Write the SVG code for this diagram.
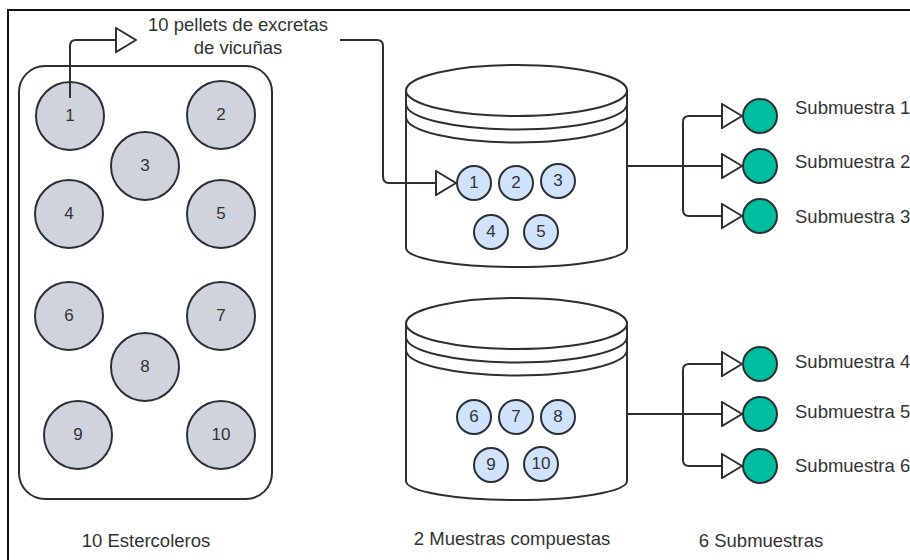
<svg xmlns="http://www.w3.org/2000/svg" width="910" height="560" viewBox="0 0 910 560">
<style>
.ln{fill:none;stroke:#2b2f36;stroke-width:2;stroke-linejoin:round}
.pel{fill:#cfd4dc;stroke:#2b2f36;stroke-width:2}
.sm{fill:#cfe3fc;stroke:#2b2f36;stroke-width:2}
.gr{fill:#00bfa0;stroke:#2b2f36;stroke-width:2}
.cyl{fill:#fff;stroke:#2b2f36;stroke-width:2}
text{font-family:"Liberation Sans",Arial,sans-serif;font-size:18.5px;fill:#333}
.c{text-anchor:middle}
.n{text-anchor:middle;dominant-baseline:central;font-size:17px}
</style>
<defs>
<marker id="tri" viewBox="0 0 22 26" refX="21" refY="13" markerWidth="22" markerHeight="26" markerUnits="userSpaceOnUse" orient="auto">
<path d="M1,1 L21,13 L1,25 Z" fill="#fff" stroke="#2b2f36" stroke-width="2" stroke-linejoin="miter"/>
</marker>
</defs>
<rect width="910" height="560" fill="#fff"/>
<path d="M8,560 V10 H910" fill="none" stroke="#111" stroke-width="2"/>

<g id="estercoleros">
<rect x="19" y="66" width="253" height="433" rx="26" class="cyl"/>
<g id="p1"><circle cx="70" cy="116" r="34" class="pel"/><text x="70" y="115" class="n">1</text></g>
<g id="p2"><circle cx="221" cy="115" r="34" class="pel"/><text x="221" y="114" class="n">2</text></g>
<g id="p3"><circle cx="145" cy="166" r="34" class="pel"/><text x="145" y="165" class="n">3</text></g>
<g id="p4"><circle cx="69" cy="214" r="34" class="pel"/><text x="69" y="213" class="n">4</text></g>
<g id="p5"><circle cx="221" cy="214" r="34" class="pel"/><text x="221" y="213" class="n">5</text></g>
<g id="p6"><circle cx="69" cy="316" r="34" class="pel"/><text x="69" y="315" class="n">6</text></g>
<g id="p7"><circle cx="221" cy="316" r="34" class="pel"/><text x="221" y="315" class="n">7</text></g>
<g id="p8"><circle cx="145" cy="367" r="34" class="pel"/><text x="145" y="366" class="n">8</text></g>
<g id="p9"><circle cx="78" cy="435" r="34" class="pel"/><text x="78" y="434" class="n">9</text></g>
<g id="p10"><circle cx="221" cy="435" r="34" class="pel"/><text x="221" y="434" class="n">10</text></g>
</g>

<g id="label-pellets">
<text x="238" y="31" class="c">10 pellets de excretas</text>
<text x="238" y="54" class="c">de vicuñas</text>
</g>

<g id="muestra1">
<path d="M406,90 V248 A110.5,19 0 0 0 627,248 V90" class="cyl"/>
<ellipse cx="516.5" cy="90.5" rx="110.5" ry="25.5" class="cyl"/>
<path d="M406,104 A110.5,25.5 0 0 0 627,104" class="ln"/>
<path d="M406,117 A110.5,25.5 0 0 0 627,117" class="ln"/>
<g><circle cx="474" cy="183" r="17" class="sm"/><text x="474" y="182" class="n">1</text></g>
<g><circle cx="516" cy="183" r="17" class="sm"/><text x="516" y="182" class="n">2</text></g>
<g><circle cx="558" cy="181" r="17" class="sm"/><text x="558" y="180" class="n">3</text></g>
<g><circle cx="491" cy="232" r="17" class="sm"/><text x="491" y="231" class="n">4</text></g>
<g><circle cx="541" cy="232" r="17" class="sm"/><text x="541" y="231" class="n">5</text></g>
</g>

<g id="muestra2">
<path d="M406,323 V481 A110.5,19 0 0 0 627,481 V323" class="cyl"/>
<ellipse cx="516.5" cy="323.5" rx="110.5" ry="25.5" class="cyl"/>
<path d="M406,337 A110.5,25.5 0 0 0 627,337" class="ln"/>
<path d="M406,350 A110.5,25.5 0 0 0 627,350" class="ln"/>
<g><circle cx="474" cy="417" r="17" class="sm"/><text x="474" y="416" class="n">6</text></g>
<g><circle cx="516" cy="417" r="17" class="sm"/><text x="516" y="416" class="n">7</text></g>
<g><circle cx="558" cy="417" r="17" class="sm"/><text x="558" y="416" class="n">8</text></g>
<g><circle cx="491" cy="465" r="17" class="sm"/><text x="491" y="464" class="n">9</text></g>
<g><circle cx="541" cy="464" r="17" class="sm"/><text x="541" y="463" class="n">10</text></g>
</g>

<g id="submuestras">
<g id="s1"><circle cx="760" cy="116" r="17" class="gr"/><text x="795" y="114">Submuestra 1</text></g>
<g id="s2"><circle cx="760" cy="166" r="17" class="gr"/><text x="795" y="168">Submuestra 2</text></g>
<g id="s3"><circle cx="760" cy="216" r="17" class="gr"/><text x="795" y="223">Submuestra 3</text></g>
<g id="s4"><circle cx="760" cy="364" r="17" class="gr"/><text x="795" y="368">Submuestra 4</text></g>
<g id="s5"><circle cx="760" cy="414" r="17" class="gr"/><text x="795" y="418">Submuestra 5</text></g>
<g id="s6"><circle cx="760" cy="466" r="17" class="gr"/><text x="795" y="472">Submuestra 6</text></g>
</g>

<g id="connectors">
<path d="M70,98 V46 Q70,40 76,40 H136" class="ln" marker-end="url(#tri)"/>
<path d="M340,40 H377 Q383,40 383,46 V176 Q383,183 389,183 H456" class="ln" marker-end="url(#tri)"/>
<path d="M627,166 H683" class="ln"/>
<path d="M683,166 V122 Q683,116 689,116 H742" class="ln" marker-end="url(#tri)"/>
<path d="M683,166 H742" class="ln" marker-end="url(#tri)"/>
<path d="M683,166 V210 Q683,216 689,216 H742" class="ln" marker-end="url(#tri)"/>
<path d="M627,414 H683" class="ln"/>
<path d="M683,414 V370 Q683,364 689,364 H742" class="ln" marker-end="url(#tri)"/>
<path d="M683,414 H742" class="ln" marker-end="url(#tri)"/>
<path d="M683,414 V460 Q683,466 689,466 H742" class="ln" marker-end="url(#tri)"/>
</g>

<g id="captions">
<text x="146" y="547" class="c">10 Estercoleros</text>
<text x="512" y="545" class="c">2 Muestras compuestas</text>
<text x="761" y="547" class="c">6 Submuestras</text>
</g>
</svg>
